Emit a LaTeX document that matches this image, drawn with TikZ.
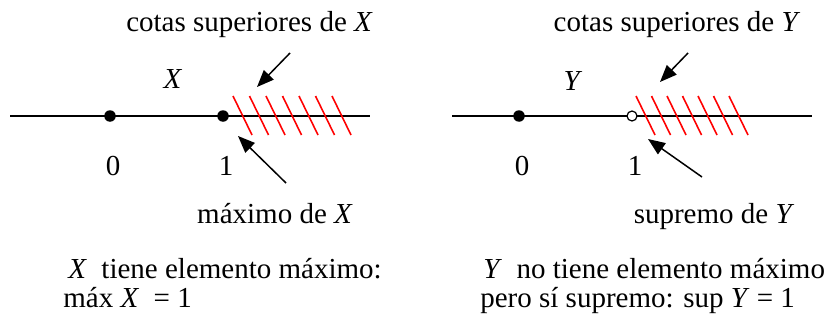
\documentclass[tikz,border=0pt]{standalone}
\usepackage{fontspec}
\setmainfont{Liberation Serif}
\usetikzlibrary{arrows.meta}

\begin{document}
\begin{tikzpicture}[
  font=\fontsize{16.5}{19}\selectfont,
  axis/.style={line width=1.3pt},
  dot/.style={circle, fill, inner sep=0pt, minimum size=0.23cm},
  opendot/.style={circle, draw, line width=0.7pt, fill=white, inner sep=0pt, minimum size=0.2cm},
  hatch/.style={red, line width=0.9pt},
  arr/.style={-{Triangle[length=0.34cm, width=0.27cm]}, line width=0.85pt},
  txt/.style={anchor=base, inner sep=0pt},
  note/.style={anchor=base west, inner sep=0pt},
]
\useasboundingbox (0,0) rectangle (16.52,6.46);

% --- Left: X has a maximum ---
\coordinate (xa) at (0.2,4.14);
\coordinate (xb) at (7.4,4.14);
\draw[axis] (xa) -- (xb);
\foreach \i in {0,...,6}
  \draw[hatch] (4.66+0.33*\i,4.54) -- ++(0.38,-0.78);
\node[dot] (x0) at (2.2,4.14) {};
\node[dot] (x1) at (4.46,4.14) {};
\node[txt] (lx0) at (2.26,2.96) {0};
\node[txt] (lx1) at (4.52,2.96) {1};
\node[txt] (setx) at (3.46,4.70) {\textit{X}};
\node[txt] (cotx) at (4.99,5.82) {cotas superiores de \textit{X}};
\node[txt] (maxx) at (5.5,2.0) {máximo de \textit{X}};
\coordinate (cotxs) at (5.8,5.40);
\coordinate (cotxe) at (5.14,4.72);
\coordinate (maxxs) at (5.72,2.80);
\coordinate (maxxe) at (4.76,3.74);
\draw[arr] (cotxs) -- (cotxe);
\draw[arr] (maxxs) -- (maxxe);

% --- Right: Y has a supremum only ---
\coordinate (ya) at (9.04,4.14);
\coordinate (yb) at (16.24,4.14);
\draw[axis] (ya) -- (yb);
\foreach \i in {0,...,6}
  \draw[hatch] (12.72+0.31*\i,4.54) -- ++(0.38,-0.78);
\node[dot] (y0) at (10.38,4.14) {};
\node[opendot] (y1) at (12.64,4.14) {};
\node[txt] (ly0) at (10.44,2.96) {0};
\node[txt] (ly1) at (12.7,2.96) {1};
\node[txt] (sety) at (11.46,4.66) {\textit{Y}};
\node[txt] (coty) at (13.54,5.82) {cotas superiores de \textit{Y}};
\node[txt] (supy) at (14.28,2.0) {supremo de \textit{Y}};
\coordinate (cotys) at (13.76,5.40);
\coordinate (cotye) at (13.2,4.82);
\coordinate (supys) at (14.04,2.92);
\coordinate (supye) at (12.96,3.68);
\draw[arr] (cotys) -- (cotye);
\draw[arr] (supys) -- (supye);

% --- Notes ---
\node[note] (nx1) at (1.36,0.90) {\textit{X}\ \ tiene elemento máximo:};
\node[note] (nx2) at (1.26,0.32) {máx \textit{X}\ \ = 1};
\node[note] (ny1) at (9.66,0.90) {\textit{Y}\ \ no tiene elemento máximo};
\node[note] (ny2) at (9.60,0.32) {pero sí supremo: sup \textit{Y} = 1};
\end{tikzpicture}
\end{document}
